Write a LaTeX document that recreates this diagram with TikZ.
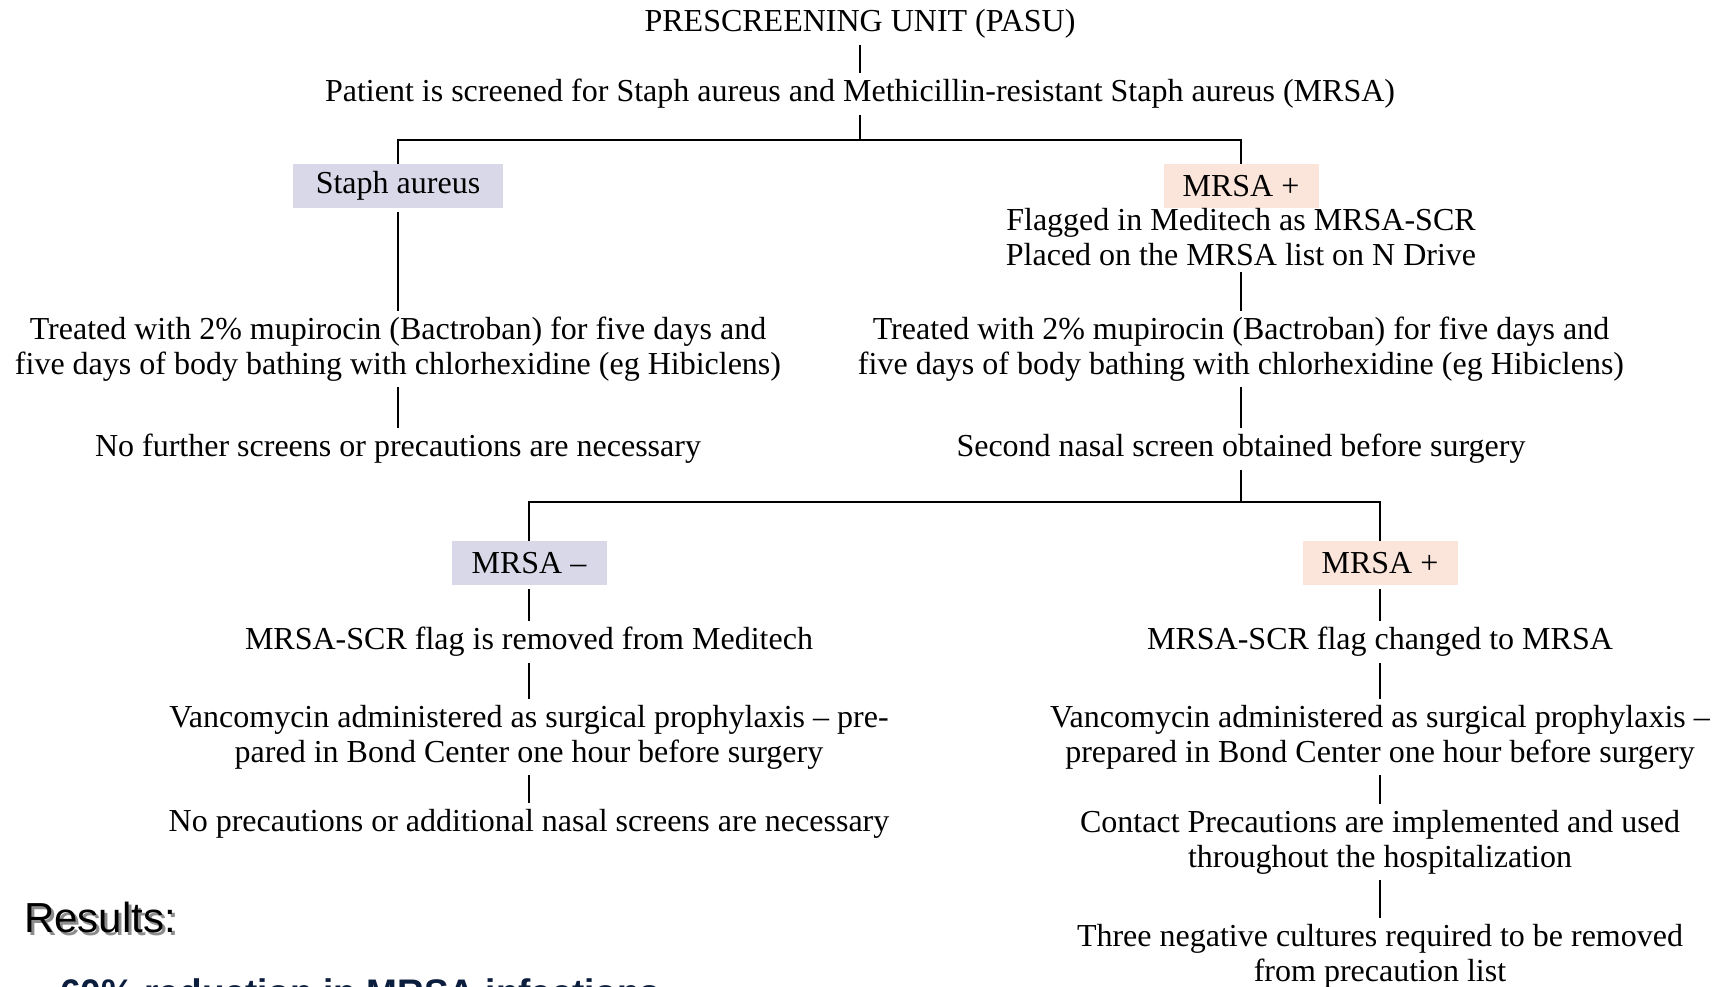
\documentclass[tikz,border=0pt]{standalone}
\usepackage{fontspec}
\setmainfont{Liberation Serif}
\newfontfamily\resfont{Liberation Sans}
\usepackage{xcolor}
\usetikzlibrary{calc}

\definecolor{staphfill}{RGB}{216,216,233}
\definecolor{posfill}{RGB}{251,228,218}
\definecolor{resnavy}{RGB}{12,30,62}

\tikzset{
	flowtext/.style = {font=\fontsize{32}{35}\selectfont, align=center, inner sep=0pt},
	tagbox/.style = {flowtext, minimum height=44pt, minimum width=155pt},
	link/.style = {line width=2.6pt, shorten >=6pt},
	gap/.style = {shorten <=6pt}
}

\begin{document}
\begin{tikzpicture}[x=1pt, y=-1pt]
	\def\xMID{860};
	\def\xL{398};
	\def\xR{1241};
	\def\xLL{529};
	\def\xRR{1380};

	\useasboundingbox (0,0) rectangle (1718,987);

	% first level
	\node[flowtext] (title) at (\xMID,24) {PRESCREENING UNIT (PASU)};
	\node[flowtext] (patient) at (\xMID,94) {Patient is screened for Staph aureus and Methicillin-resistant Staph aureus (MRSA)};
	\coordinate (split1) at (\xMID,140);

	\node[tagbox, fill=staphfill, minimum width=210pt] (staph) at (\xL,186) {Staph aureus};
	\node[tagbox, fill=posfill] (mrsaA) at (\xR,186) {MRSA +};
	\node[flowtext] (flagged) at (\xR,237) {Flagged in Meditech as MRSA-SCR\\Placed on the MRSA list on N Drive};

	\node[flowtext] (treatL) at (\xL,349) {Treated with 2\% mupirocin (Bactroban) for five days and\\five days of body bathing with chlorhexidine (eg Hibiclens)};
	\node[flowtext] (treatR) at (\xR,349) {Treated with 2\% mupirocin (Bactroban) for five days and\\five days of body bathing with chlorhexidine (eg Hibiclens)};

	\node[flowtext] (nofurther) at (\xL,449) {No further screens or precautions are necessary};
	\node[flowtext] (second) at (\xR,449) {Second nasal screen obtained before surgery};
	\coordinate (split2) at (\xR,502);

	% second level
	\node[tagbox, fill=staphfill] (mrsaN) at (\xLL,563) {MRSA --};
	\node[tagbox, fill=posfill] (mrsaB) at (\xRR,563) {MRSA +};

	\node[flowtext] (removed) at (\xLL,642) {MRSA-SCR flag is removed from Meditech};
	\node[flowtext] (changed) at (\xRR,642) {MRSA-SCR flag changed to MRSA};

	\node[flowtext] (vancoL) at (\xLL,737) {Vancomycin administered as surgical prophylaxis -- pre-\\pared in Bond Center one hour before surgery};
	\node[flowtext] (vancoR) at (\xRR,737) {Vancomycin administered as surgical prophylaxis --\\prepared in Bond Center one hour before surgery};

	\node[flowtext] (noprec) at (\xLL,824) {No precautions or additional nasal screens are necessary};
	\node[flowtext] (contact) at (\xRR,842) {Contact Precautions are implemented and used\\throughout the hospitalization};
	\node[flowtext] (three) at (\xRR,956) {Three negative cultures required to be removed\\from precaution list};

	% results
	\node[font=\resfont\fontsize{42}{48}\selectfont, text=black!45, anchor=base west, inner sep=0pt] (resshadow) at (27,935) {Results:};
	\node[font=\resfont\fontsize{42}{48}\selectfont, anchor=base west, inner sep=0pt] (results) at (24,932) {Results:};
	\node[font=\resfont\bfseries\fontsize{37}{42}\selectfont, text=resnavy, anchor=base west, inner sep=0pt] (reduction) at (60,1005) {60\% reduction in MRSA infections};

	\begin{scope}[link]
		\draw[gap] (title) -- (patient);
		\draw[shorten >=0pt, gap] (patient) -- (split1);
		\draw[shorten >=0pt] (split1) -| (staph);
		\draw[shorten >=0pt] (split1) -| (mrsaA);
		\draw[shorten <=4pt] (staph) -- (treatL);
		\draw[gap] (flagged) -- (treatR);
		\draw[gap] (treatL) -- (nofurther);
		\draw[gap] (treatR) -- (second);
		\draw[shorten >=0pt, gap] (second) -- (split2);
		\draw[shorten >=0pt] (split2) -| (mrsaN);
		\draw[shorten >=0pt] (split2) -| (mrsaB);
		\draw[shorten <=4pt] (mrsaN) -- (removed);
		\draw[shorten <=4pt] (mrsaB) -- (changed);
		\draw[gap] (removed) -- (vancoL);
		\draw[gap] (changed) -- (vancoR);
		\draw[gap] (vancoL) -- (noprec);
		\draw[gap] (vancoR) -- (contact);
		\draw[gap] (contact) -- (three);
	\end{scope}
\end{tikzpicture}
\end{document}
